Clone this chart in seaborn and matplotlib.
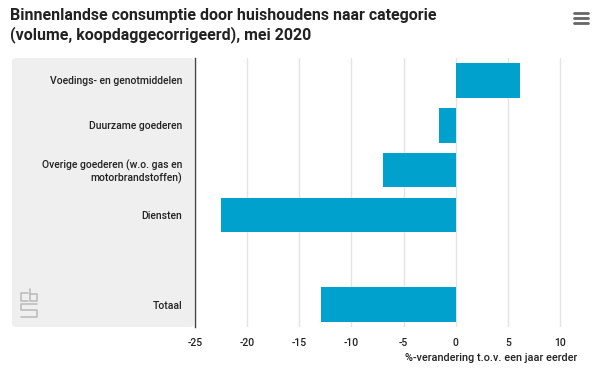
import matplotlib
matplotlib.use("Agg")
import matplotlib.pyplot as plt
import seaborn as sns
import pandas as pd
import numpy as np
from matplotlib.patches import FancyBboxPatch
from matplotlib.lines import Line2D

categories = ["Voedings- en genotmiddelen", "Duurzame goederen",
              "Overige goederen (w.o. gas en\nmotorbrandstoffen)", "Diensten", " ", "Totaal"]
values = [6.2, -1.6, -7.0, -22.5, np.nan, -12.9]
xticks = [-25, -20, -15, -10, -5, 0, 5, 10]

title = "Binnenlandse consumptie door huishoudens naar categorie\n(volume, koopdaggecorrigeerd), mei 2020"
xlabel = "%-verandering t.o.v. een jaar eerder"

sns.set_theme(style="white")
plt.rcParams['font.family'] = ['Roboto', 'DejaVu Sans']

W, H = 600, 390
fig = plt.figure(figsize=(6, 3.9), dpi=100)

# gray label panel
panel = FancyBboxPatch((12 / W, 1 - 327 / H), (194 - 12) / W, (327 - 58) / H,
                       boxstyle="round,pad=0,rounding_size=0.008",
                       transform=fig.transFigure, facecolor="#efefef",
                       edgecolor="none", zorder=-1)
fig.patches.append(panel)

ax = fig.add_axes([195 / W, 1 - 327 / H, (581 - 195) / W, (327 - 58) / H])
ax.patch.set_alpha(0)
ax.set_zorder(1)

df = pd.DataFrame({"cat": categories, "val": values})
sns.barplot(data=df, x="val", y="cat", order=categories, orient="h",
            color="#00a1cd", saturation=1, width=0.77, linewidth=0, ax=ax, zorder=3)

ax.set_xlim(-25, 12)
ax.set_ylim(5.5, -0.5)
ax.set_xticks(xticks)
ax.set_xticklabels([str(t) for t in xticks], fontsize=7.5, color="#222222")
ax.xaxis.grid(True, color="#e4e4e4", linewidth=1)
ax.set_axisbelow(True)
for s in ["top", "right", "bottom"]:
    ax.spines[s].set_visible(False)
ax.spines["left"].set_color("#444444")
ax.spines["left"].set_linewidth(1)
ax.tick_params(axis="y", length=0, pad=9, labelsize=7.5, labelcolor="#222222")
ax.tick_params(axis="x", length=0, pad=8)
for lbl in ax.get_yticklabels():
    lbl.set_horizontalalignment("right")
    lbl.set_multialignment("right")
    lbl.set_linespacing(1.15)
    lbl.set_fontweight("medium")
for lbl in ax.get_xticklabels():
    lbl.set_fontweight("medium")
ax.set_ylabel("")
ax.set_xlabel("")

fig.text(577 / W, 1 - 358 / H, xlabel, ha="right", va="center", fontsize=7.8,
         color="#222222", fontweight="medium")
fig.text(10 / W, 1 - 8 / H, title, ha="left", va="top", fontsize=11.5,
         fontweight="bold", color="#222222", linespacing=1.25)

# hamburger icon
for yy in [13, 18, 23]:
    fig.add_artist(Line2D([574 / W, 588 / W], [1 - yy / H, 1 - yy / H],
                          transform=fig.transFigure, color="#666666", linewidth=2))

# simple cbs logo approximation
lc = "#bdbdbd"
segs = [
    [(28, 293), (21, 293), (21, 301), (28, 301)],
    [(30, 289), (30, 301), (37, 301), (37, 294), (30, 294)],
    [(37, 304), (21, 304), (21, 310), (37, 310), (37, 317), (21, 317)],
]
for seg in segs:
    xs = [p[0] / W for p in seg]
    ys = [1 - p[1] / H for p in seg]
    fig.add_artist(Line2D(xs, ys, transform=fig.transFigure, color=lc, linewidth=1.2))

fig.savefig("out.png", dpi=100)
